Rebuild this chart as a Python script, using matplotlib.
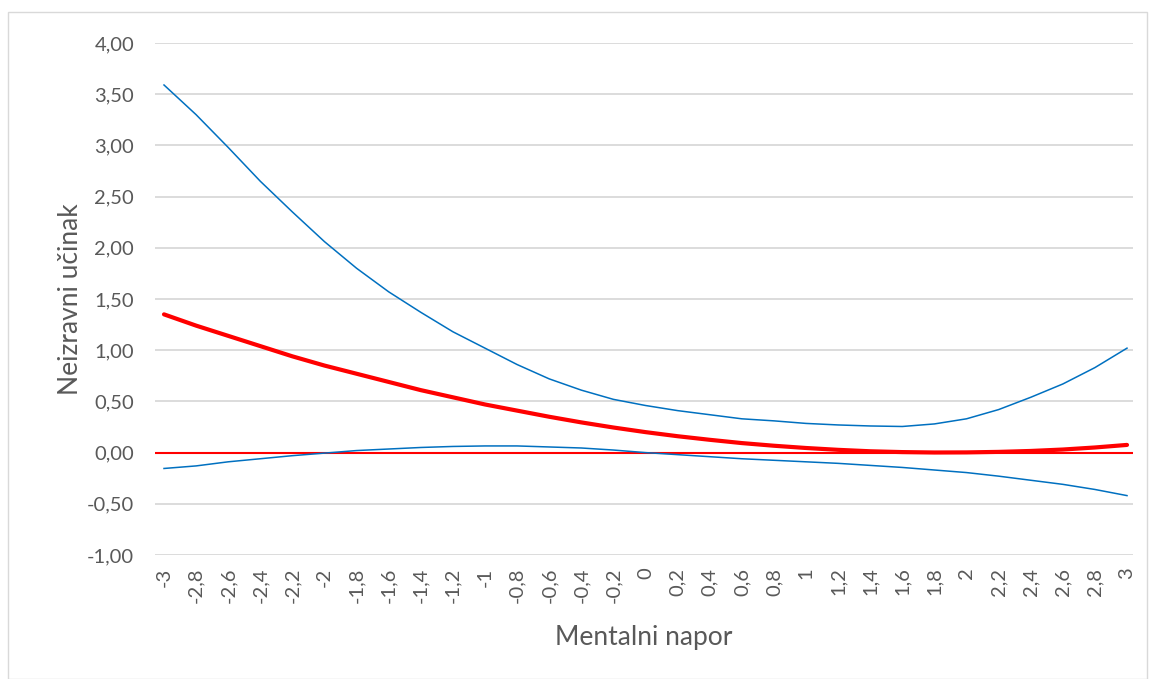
import numpy as np
import matplotlib
matplotlib.use('Agg')
import matplotlib.pyplot as plt
from matplotlib.patches import Rectangle

# moderator values (Mentalni napor)
x_vals = [-3.0, -2.8, -2.6, -2.4, -2.2, -2.0, -1.8, -1.6, -1.4, -1.2, -1.0,
          -0.8, -0.6, -0.4, -0.2, 0.0, 0.2, 0.4, 0.6, 0.8, 1.0,
          1.2, 1.4, 1.6, 1.8, 2.0, 2.2, 2.4, 2.6, 2.8, 3.0]
x_labels = ['-3', '-2,8', '-2,6', '-2,4', '-2,2', '-2', '-1,8', '-1,6', '-1,4', '-1,2', '-1',
            '-0,8', '-0,6', '-0,4', '-0,2', '0', '0,2', '0,4', '0,6', '0,8', '1',
            '1,2', '1,4', '1,6', '1,8', '2', '2,2', '2,4', '2,6', '2,8', '3']

# indirect effect and confidence bounds
effect = [1.35, 1.24, 1.14, 1.04, 0.94, 0.85, 0.77, 0.69, 0.61, 0.54, 0.47,
          0.41, 0.35, 0.295, 0.245, 0.20, 0.16, 0.125, 0.093, 0.067, 0.045,
          0.027, 0.013, 0.005, 0.001, 0.002, 0.007, 0.016, 0.03, 0.05, 0.075]
upper = [3.59, 3.30, 2.98, 2.65, 2.35, 2.06, 1.80, 1.57, 1.37, 1.18, 1.02,
         0.86, 0.72, 0.61, 0.52, 0.46, 0.41, 0.37, 0.33, 0.31, 0.285,
         0.27, 0.26, 0.255, 0.28, 0.33, 0.42, 0.54, 0.67, 0.83, 1.02]
lower = [-0.155, -0.13, -0.09, -0.06, -0.03, -0.005, 0.02, 0.035, 0.05, 0.06, 0.065,
         0.065, 0.055, 0.045, 0.025, 0.0, -0.02, -0.04, -0.06, -0.075, -0.09,
         -0.105, -0.125, -0.145, -0.17, -0.195, -0.23, -0.27, -0.31, -0.36, -0.42]

y_ticks = [-1.0, -0.5, 0.0, 0.5, 1.0, 1.5, 2.0, 2.5, 3.0, 3.5, 4.0]

plt.rcParams['font.family'] = ['Lato', 'DejaVu Sans']

W, H = 1151, 679
fig = plt.figure(figsize=(W / 100, H / 100), dpi=100)
ax = fig.add_axes([155 / W, 1 - 555 / H, (1133 - 155) / W, (555 - 43) / H])

# outer chart border
fig.patches.append(Rectangle((8 / W, 0), (1147 - 8) / W, 1 - 12 / H,
                             transform=fig.transFigure, fill=False,
                             edgecolor='#d9d9d9', linewidth=1.0))

for yt in y_ticks:
    if yt != 0:
        ax.axhline(yt, color='#d9d9d9', linewidth=1.3, zorder=1)
ax.axhline(0, color='#ff0000', linewidth=1.5, zorder=2)

ax.plot(x_vals, upper, color='#0070c0', linewidth=1.1, zorder=3)
ax.plot(x_vals, lower, color='#0070c0', linewidth=1.1, zorder=3)
ax.plot(x_vals, effect, color='#ff0000', linewidth=3.0, zorder=4,
        solid_capstyle='round')

step = 1 / 160.5
ax.set_xlim(-3 - 9 * step, 3 + 6 * step)
ax.set_ylim(-1.0, 4.0)

for s in ax.spines.values():
    s.set_visible(False)

ax.set_yticks(y_ticks)
ax.set_yticklabels([f'{v:.2f}'.replace('.', ',') for v in y_ticks])
ax.set_xticks(x_vals)
ax.set_xticklabels(x_labels, rotation=90)
ax.tick_params(axis='both', length=0, labelsize=14.5, labelcolor='#595959')
ax.tick_params(axis='y', pad=15)
ax.tick_params(axis='x', pad=9)

ax.set_xlabel('Mentalni napor', fontsize=19, color='#595959', labelpad=16)
ax.set_ylabel('Neizravni učinak', fontsize=19, color='#595959', labelpad=3)

fig.savefig('out.png', dpi=100)
